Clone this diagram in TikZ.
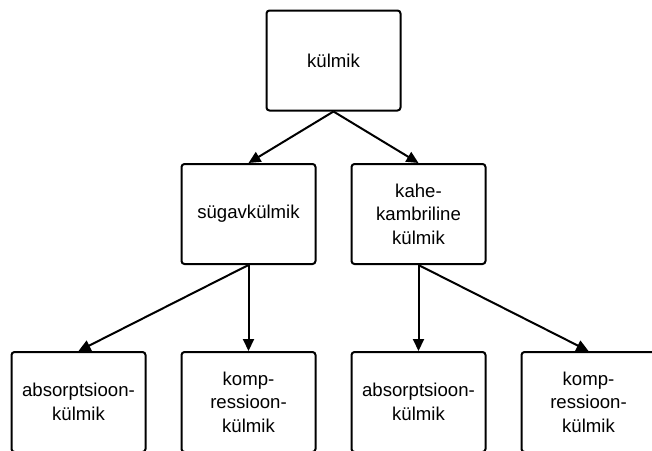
\documentclass[tikz,border=0pt]{standalone}
\usepackage{fontspec}
\setmainfont{Liberation Sans}
\usetikzlibrary{arrows.meta}

\begin{document}
\begin{tikzpicture}[x=1pt, y=-1pt, every node/.style={transform shape},
box/.style={draw, line width=2pt, rounded corners=3pt, minimum width=134pt, minimum height=100pt,
  align=center, font=\fontsize{18.6}{23.5}\selectfont},
link/.style={line width=2pt, -{Triangle[length=12pt,width=11pt]}}]

\useasboundingbox (0,0) rectangle (652,450);
\clip (0,0) rectangle (652,450);

\node[box] (kylmik) at   (333.5,060.5) {külmik};
\node[box] (sygav)  at   (248.5,214.0) {sügavkülmik};
\node[box] (kahe)   at   (418.5,214.0) {kahe-\\kambriline\\külmik};
\node[box] (abs1)   at   (078.5,402.0) {absorptsioon-\\külmik};
\node[box] (komp1)  at   (248.5,402.0) {komp-\\ressioon-\\külmik};
\node[box] (abs2)   at   (418.5,402.0) {absorptsioon-\\külmik};
\node[box] (komp2)  at   (588.5,402.0) {komp-\\ressioon-\\külmik};

\draw[link] (kylmik.south) -- (sygav.north);
\draw[link] (kylmik.south) -- (kahe.north);
\draw[link] (sygav.south) -- (abs1.north);
\draw[link] (sygav.south) -- (komp1.north);
\draw[link] (kahe.south) -- (abs2.north);
\draw[link] (kahe.south) -- (komp2.north);

\end{tikzpicture}
\end{document}
